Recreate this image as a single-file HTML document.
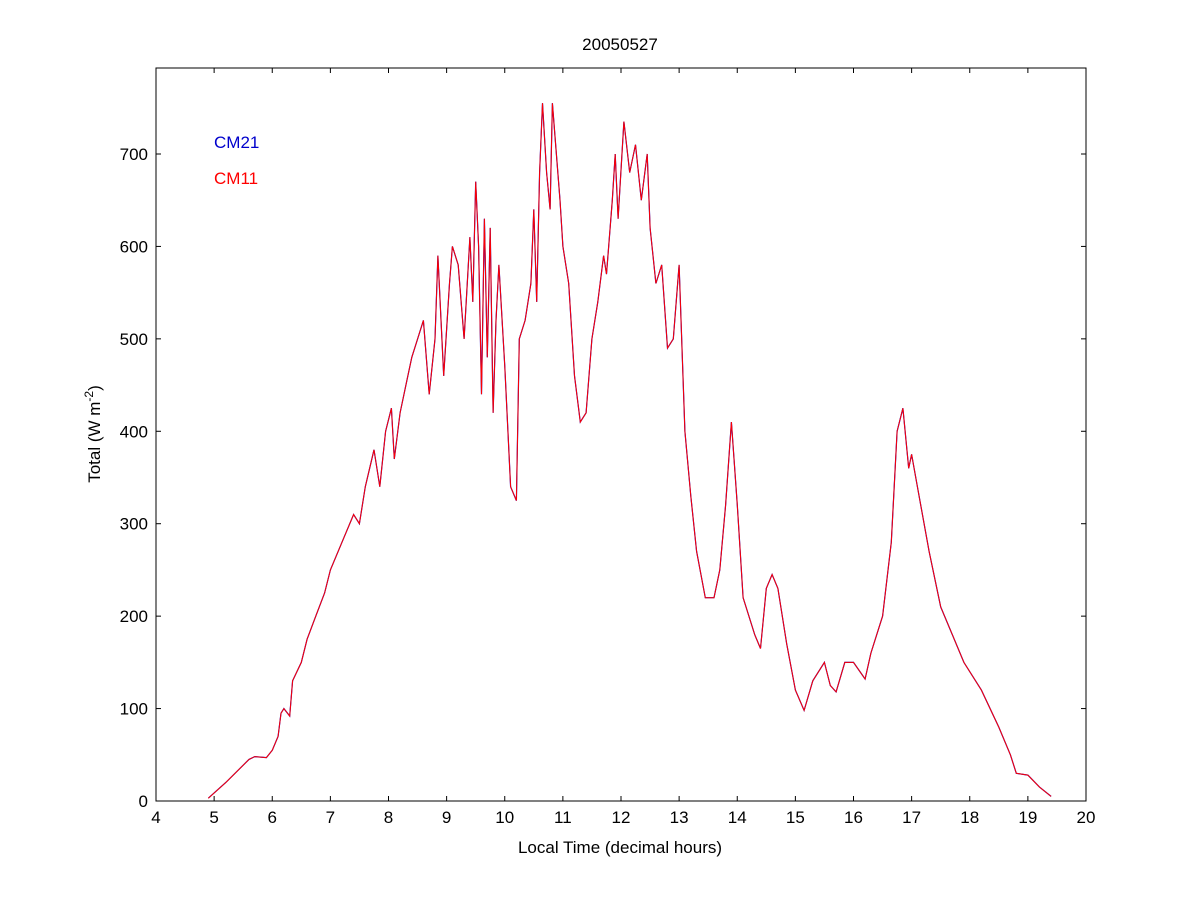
<!DOCTYPE html>
<html><head><meta charset="utf-8"><style>
body{margin:0;background:#fff}
svg text{font-family:"Liberation Sans",sans-serif;font-size:17px;fill:#000}
</style></head><body>
<svg id="s" width="1200" height="900" xmlns="http://www.w3.org/2000/svg">
<rect width="1200" height="900" fill="#fff"/>
<rect x="156" y="68" width="930" height="733" fill="none" stroke="#000" stroke-width="1"/>
<g id="ticks" stroke="#000" stroke-width="1"></g>
<g id="labels"></g>
<path id="blue" fill="none" stroke="#0000cc" stroke-width="1.2"/>
<path id="red" fill="none" stroke="#ff0000" stroke-width="1"/>
<text x="620" y="50" text-anchor="middle">20050527</text>
<text x="620" y="853" text-anchor="middle">Local Time (decimal hours)</text>
<text transform="translate(100,434) rotate(-90)" text-anchor="middle">Total (W m<tspan dy="-7" font-size="12">-2</tspan><tspan dy="7">)</tspan></text>
<text x="214" y="148" style="fill:#0000cc">CM21</text>
<text x="214" y="184" style="fill:#ff0000">CM11</text>
</svg>
<script>
var X=function(h){return 156+(h-4)*58.125},Y=function(v){return 801-v*0.9243};
var ns="http://www.w3.org/2000/svg",t=document.getElementById("ticks"),l=document.getElementById("labels");
function ln(a,b,c,d){var e=document.createElementNS(ns,"line");e.setAttribute("x1",a);e.setAttribute("y1",b);e.setAttribute("x2",c);e.setAttribute("y2",d);t.appendChild(e);}
function tx(x,y,s,a){var e=document.createElementNS(ns,"text");e.setAttribute("x",x);e.setAttribute("y",y);e.setAttribute("text-anchor",a);e.textContent=s;l.appendChild(e);}
for(var h=4;h<=20;h++){var x=X(h);ln(x,801,x,796);ln(x,68,x,73);tx(x,823,h,"middle");}
for(var v=0;v<=700;v+=100){var y=Y(v);ln(156,y,161,y);ln(1086,y,1081,y);tx(148,y+6,v,"end");}
var d=[4.9,3,5.2,20,5.6,45,5.7,48,5.9,47,6.0,55,6.1,70,6.15,95,6.2,100,6.3,92,6.35,130,6.5,150,6.6,175,6.75,200,6.9,225,7.0,250,7.2,280,7.4,310,7.5,300,7.6,340,7.75,380,7.85,340,7.95,400,8.05,425,8.1,370,8.2,420,8.3,450,8.4,480,8.5,500,8.6,520,8.7,440,8.8,500,8.85,590,8.95,460,9.05,560,9.1,600,9.2,580,9.3,500,9.4,610,9.45,540,9.5,670,9.55,600,9.6,440,9.65,630,9.7,480,9.75,620,9.8,420,9.85,520,9.9,580,10.0,470,10.1,340,10.2,325,10.25,500,10.35,520,10.45,560,10.5,640,10.55,540,10.6,680,10.65,755,10.72,680,10.78,640,10.82,755,10.9,690,10.95,650,11.0,600,11.1,560,11.2,460,11.3,410,11.4,420,11.5,500,11.6,540,11.7,590,11.75,570,11.85,650,11.9,700,11.95,630,12.05,735,12.15,680,12.25,710,12.35,650,12.45,700,12.5,620,12.6,560,12.7,580,12.8,490,12.9,500,13.0,580,13.1,400,13.2,330,13.3,270,13.45,220,13.6,220,13.7,250,13.8,320,13.9,410,14.0,320,14.1,220,14.3,180,14.4,165,14.5,230,14.6,245,14.7,230,14.85,170,15.0,120,15.15,98,15.3,130,15.5,150,15.6,125,15.7,118,15.85,150,16.0,150,16.2,132,16.3,160,16.5,200,16.65,280,16.75,400,16.85,425,16.95,360,17.0,375,17.1,340,17.3,270,17.5,210,17.7,180,17.9,150,18.2,120,18.5,80,18.7,50,18.8,30,19.0,28,19.2,15,19.4,5];
var p="";for(var i=0;i<d.length;i+=2){p+=(i?"L":"M")+X(d[i]).toFixed(1)+","+Y(d[i+1]).toFixed(1);}
document.getElementById("blue").setAttribute("d",p);document.getElementById("red").setAttribute("d",p);
</script>
</body></html>
